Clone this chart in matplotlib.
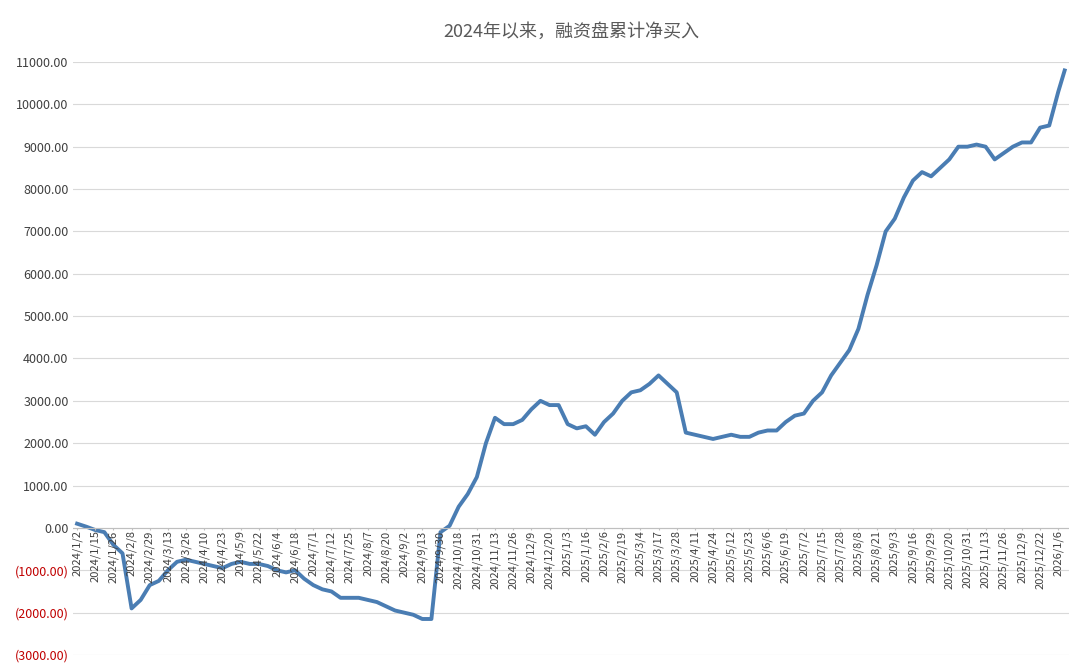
import matplotlib
matplotlib.use('Agg')
import matplotlib.pyplot as plt
from matplotlib.ticker import FuncFormatter

plt.rcParams['font.family'] = ['Noto Sans CJK SC', 'DejaVu Sans']

tick_labels = ["2024/1/2", "2024/1/15", "2024/1/26", "2024/2/8", "2024/2/29", "2024/3/13",
               "2024/3/26", "2024/4/10", "2024/4/23", "2024/5/9", "2024/5/22", "2024/6/4",
               "2024/6/18", "2024/7/1", "2024/7/12", "2024/7/25", "2024/8/7", "2024/8/20",
               "2024/9/2", "2024/9/13", "2024/9/30", "2024/10/18", "2024/10/31", "2024/11/13",
               "2024/11/26", "2024/12/9", "2024/12/20", "2025/1/3", "2025/1/16", "2025/2/6",
               "2025/2/19", "2025/3/4", "2025/3/17", "2025/3/28", "2025/4/11", "2025/4/24",
               "2025/5/12", "2025/5/23", "2025/6/6", "2025/6/19", "2025/7/2", "2025/7/15",
               "2025/7/28", "2025/8/8", "2025/8/21", "2025/9/3", "2025/9/16", "2025/9/29",
               "2025/10/20", "2025/10/31", "2025/11/13", "2025/11/26", "2025/12/9",
               "2025/12/22", "2026/1/6"]

# cumulative net buying, two samples per tick interval
values = [100, 30, -50, -100, -400, -600, -1900, -1700, -1350, -1250,
          -1000, -800, -750, -800, -850, -900, -950, -850, -800, -850,
          -850, -900, -1000, -1050, -1000, -1200, -1350, -1450, -1500, -1650,
          -1650, -1650, -1700, -1750, -1850, -1950, -2000, -2050, -2150, -2150,
          -100, 50, 500, 800, 1200, 2000, 2600, 2450, 2450, 2550,
          2800, 3000, 2900, 2900, 2450, 2350, 2400, 2200, 2500, 2700,
          3000, 3200, 3250, 3400, 3600, 3400, 3200, 2250, 2200, 2150,
          2100, 2150, 2200, 2150, 2150, 2250, 2300, 2300, 2500, 2650,
          2700, 3000, 3200, 3600, 3900, 4200, 4700, 5500, 6200, 7000,
          7300, 7800, 8200, 8400, 8300, 8500, 8700, 9000, 9000, 9050,
          9000, 8700, 8850, 9000, 9100, 9100, 9450, 9500, 10300, 10800]

x = [i / 2 for i in range(len(values))]
x[-1] = 54.35

fig, ax = plt.subplots(figsize=(10.8, 6.7), dpi=100)
fig.subplots_adjust(left=0.068, right=0.99, top=0.9075, bottom=0.0224)
ax.plot(x, values, color='#4a7db3', lw=2.8)

ax.set_ylim(-3000, 11000)
ax.set_xlim(-0.2, 54.6)
ax.set_yticks(range(-3000, 11001, 1000))
ax.yaxis.set_major_formatter(FuncFormatter(
    lambda v, p: f"({abs(v):.2f})" if v < 0 else f"{v:.2f}"))
ax.grid(axis='y', color='#d9d9d9', lw=0.8)
ax.set_axisbelow(True)
for s in ['top', 'right', 'left', 'bottom']:
    ax.spines[s].set_visible(False)
ax.tick_params(axis='y', length=0, labelsize=9, colors='#404040')
ax.axhline(0, color='#bfbfbf', lw=0.8)
fig.canvas.draw()
for lab, v in zip(ax.get_yticklabels(), ax.get_yticks()):
    if v < 0:
        lab.set_color('#c00000')

# date labels hang from the zero line
ax.set_xticks([])
for i, lab in enumerate(tick_labels):
    ax.text(i, -60, lab, rotation=90, fontsize=8, color='#404040', ha='center', va='top')
ax.vlines(range(len(tick_labels)), -60, 0, color='#bfbfbf', lw=0.8)

ax.set_title("2024年以来，融资盘累计净买入", fontsize=13, color='#595959', pad=18)

fig.savefig('out.png')
